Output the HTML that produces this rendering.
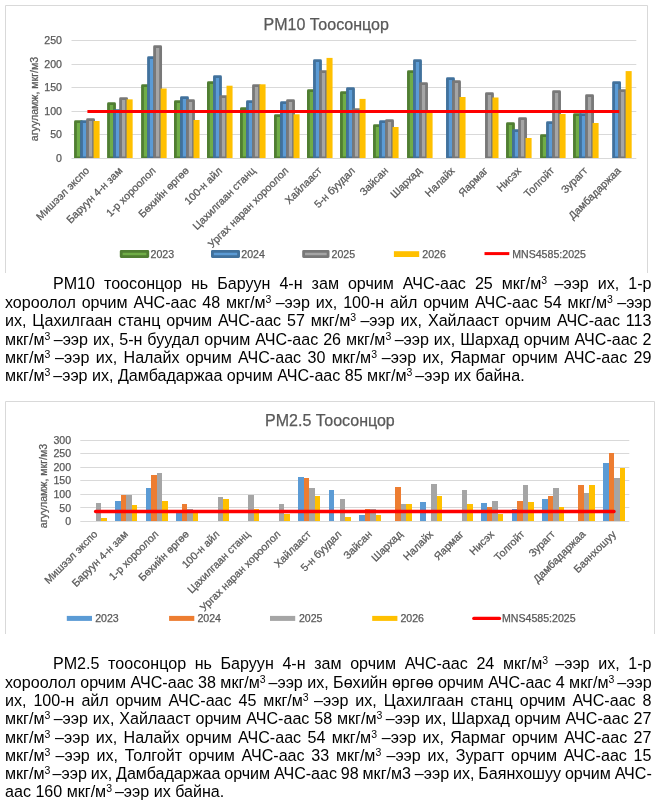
<!DOCTYPE html>
<html lang="mn">
<head>
<meta charset="utf-8">
<title>PM10 / PM2.5 Тоосонцор</title>
<style>
html,body{margin:0;padding:0;background:#fff;}
body{width:660px;height:802px;position:relative;overflow:hidden;font-family:'Liberation Sans', Arial, sans-serif;color:#000;}
svg.ch{position:absolute;display:block;}
svg text{font-family:'Liberation Sans', Arial, sans-serif;stroke:#595959;stroke-width:0.25px;}
.para{position:absolute;left:5px;top:0;width:646.5px;font-size:16.08px;line-height:18px;}
.ln{position:absolute;left:0;right:0;margin:0;height:18px;white-space:nowrap;text-align:justify;text-align-last:justify;}
.ln.first{padding-left:48px;}
.ln.last{text-align:left;text-align-last:left;}
sup{font-size:10.5px;line-height:0;vertical-align:baseline;position:relative;top:-5.5px;}
</style>
</head>
<body>
<svg class="ch" style="left:0;top:0" width="660" height="276" viewBox="0 0 660 276">
<path d="M5.5 273V5.5H647.5V273" fill="none" stroke="#D9D9D9" stroke-width="1"/>
<text x="326.2" y="29.8" text-anchor="middle" font-size="16" fill="#595959">PM10 Тоосонцор</text>
<path d="M71.5 40.5H636.3" stroke="#D9D9D9" stroke-width="1"/>
<text x="62" y="44.3" text-anchor="end" font-size="10.6" fill="#595959">250</text>
<path d="M71.5 64.5H636.3" stroke="#D9D9D9" stroke-width="1"/>
<text x="62" y="68.3" text-anchor="end" font-size="10.6" fill="#595959">200</text>
<path d="M71.5 87.5H636.3" stroke="#D9D9D9" stroke-width="1"/>
<text x="62" y="91.3" text-anchor="end" font-size="10.6" fill="#595959">150</text>
<path d="M71.5 111.5H636.3" stroke="#D9D9D9" stroke-width="1"/>
<text x="62" y="115.3" text-anchor="end" font-size="10.6" fill="#595959">100</text>
<path d="M71.5 134.5H636.3" stroke="#D9D9D9" stroke-width="1"/>
<text x="62" y="138.3" text-anchor="end" font-size="10.6" fill="#595959">50</text>
<path d="M71.5 158.5H636.3" stroke="#D9D9D9" stroke-width="1"/>
<text x="62" y="162.3" text-anchor="end" font-size="10.6" fill="#595959">0</text>
<text transform="translate(37.6 99) rotate(-90)" text-anchor="middle" font-size="10.6" fill="#595959">агууламж, мкг/м3</text>
<clipPath id="c1"><rect x="0" y="0" width="660" height="158.0"/></clipPath>
<g clip-path="url(#c1)" stroke-linejoin="round">
<rect x="75.46" y="121.7" width="6.04" height="36.3" fill="#70AD47" stroke="#507E32" stroke-width="2.8"/>
<rect x="81.5" y="121.7" width="6.04" height="36.3" fill="#5B9BD5" stroke="#41719C" stroke-width="2.8"/>
<rect x="87.54" y="119.7" width="6.04" height="38.3" fill="#A5A5A5" stroke="#787878" stroke-width="2.8"/>
<rect x="93.56" y="121" width="6.05" height="37" fill="#FFC000"/>
<rect x="108.5" y="103.7" width="6.04" height="54.3" fill="#70AD47" stroke="#507E32" stroke-width="2.8"/>
<rect x="114.54" y="110.7" width="6.04" height="47.3" fill="#5B9BD5" stroke="#41719C" stroke-width="2.8"/>
<rect x="120.58" y="98.7" width="6.04" height="59.3" fill="#A5A5A5" stroke="#787878" stroke-width="2.8"/>
<rect x="126.6" y="99.35" width="6.05" height="58.65" fill="#FFC000"/>
<rect x="142.5" y="85.7" width="6.04" height="72.3" fill="#70AD47" stroke="#507E32" stroke-width="2.8"/>
<rect x="148.54" y="57.7" width="6.04" height="100.3" fill="#5B9BD5" stroke="#41719C" stroke-width="2.8"/>
<rect x="154.58" y="46.7" width="6.04" height="111.3" fill="#A5A5A5" stroke="#787878" stroke-width="2.8"/>
<rect x="160.6" y="88.5" width="6.05" height="69.5" fill="#FFC000"/>
<rect x="175.41" y="101.7" width="6.04" height="56.3" fill="#70AD47" stroke="#507E32" stroke-width="2.8"/>
<rect x="181.45" y="97.7" width="6.04" height="60.3" fill="#5B9BD5" stroke="#41719C" stroke-width="2.8"/>
<rect x="187.49" y="100.7" width="6.04" height="57.3" fill="#A5A5A5" stroke="#787878" stroke-width="2.8"/>
<rect x="193.51" y="120" width="6.05" height="38" fill="#FFC000"/>
<rect x="208.41" y="82.7" width="6.04" height="75.3" fill="#70AD47" stroke="#507E32" stroke-width="2.8"/>
<rect x="214.45" y="76.7" width="6.04" height="81.3" fill="#5B9BD5" stroke="#41719C" stroke-width="2.8"/>
<rect x="220.5" y="96.7" width="6.04" height="61.3" fill="#A5A5A5" stroke="#787878" stroke-width="2.8"/>
<rect x="226.51" y="85.7" width="6.05" height="72.3" fill="#FFC000"/>
<rect x="241.42" y="108.7" width="6.04" height="49.3" fill="#70AD47" stroke="#507E32" stroke-width="2.8"/>
<rect x="247.46" y="101.7" width="6.04" height="56.3" fill="#5B9BD5" stroke="#41719C" stroke-width="2.8"/>
<rect x="253.5" y="85.7" width="6.04" height="72.3" fill="#A5A5A5" stroke="#787878" stroke-width="2.8"/>
<rect x="259.52" y="84.3" width="6.05" height="73.7" fill="#FFC000"/>
<rect x="275.42" y="115.7" width="6.04" height="42.3" fill="#70AD47" stroke="#507E32" stroke-width="2.8"/>
<rect x="281.46" y="102.7" width="6.04" height="55.3" fill="#5B9BD5" stroke="#41719C" stroke-width="2.8"/>
<rect x="287.5" y="100.7" width="6.04" height="57.3" fill="#A5A5A5" stroke="#787878" stroke-width="2.8"/>
<rect x="293.52" y="114.3" width="6.05" height="43.7" fill="#FFC000"/>
<rect x="308.41" y="90.7" width="6.04" height="67.3" fill="#70AD47" stroke="#507E32" stroke-width="2.8"/>
<rect x="314.46" y="60.7" width="6.04" height="97.3" fill="#5B9BD5" stroke="#41719C" stroke-width="2.8"/>
<rect x="320.5" y="71.7" width="6.04" height="86.3" fill="#A5A5A5" stroke="#787878" stroke-width="2.8"/>
<rect x="326.51" y="57.9" width="6.05" height="100.1" fill="#FFC000"/>
<rect x="341.43" y="92.7" width="6.04" height="65.3" fill="#70AD47" stroke="#507E32" stroke-width="2.8"/>
<rect x="347.47" y="88.7" width="6.04" height="69.3" fill="#5B9BD5" stroke="#41719C" stroke-width="2.8"/>
<rect x="353.51" y="109.7" width="6.04" height="48.3" fill="#A5A5A5" stroke="#787878" stroke-width="2.8"/>
<rect x="359.53" y="98.9" width="6.05" height="59.1" fill="#FFC000"/>
<rect x="374.43" y="125.7" width="6.04" height="32.3" fill="#70AD47" stroke="#507E32" stroke-width="2.8"/>
<rect x="380.47" y="121.7" width="6.04" height="36.3" fill="#5B9BD5" stroke="#41719C" stroke-width="2.8"/>
<rect x="386.51" y="120.7" width="6.04" height="37.3" fill="#A5A5A5" stroke="#787878" stroke-width="2.8"/>
<rect x="392.53" y="127" width="6.05" height="31" fill="#FFC000"/>
<rect x="408.44" y="71.7" width="6.04" height="86.3" fill="#70AD47" stroke="#507E32" stroke-width="2.8"/>
<rect x="414.48" y="60.7" width="6.04" height="97.3" fill="#5B9BD5" stroke="#41719C" stroke-width="2.8"/>
<rect x="420.52" y="83.7" width="6.04" height="74.3" fill="#A5A5A5" stroke="#787878" stroke-width="2.8"/>
<rect x="426.54" y="110.2" width="6.05" height="47.8" fill="#FFC000"/>
<rect x="447.44" y="78.7" width="6.04" height="79.3" fill="#5B9BD5" stroke="#41719C" stroke-width="2.8"/>
<rect x="453.48" y="81.7" width="6.04" height="76.3" fill="#A5A5A5" stroke="#787878" stroke-width="2.8"/>
<rect x="459.5" y="97" width="6.05" height="61" fill="#FFC000"/>
<rect x="486.44" y="93.7" width="6.04" height="64.3" fill="#A5A5A5" stroke="#787878" stroke-width="2.8"/>
<rect x="492.46" y="97.5" width="6.05" height="60.5" fill="#FFC000"/>
<rect x="507.45" y="123.7" width="6.04" height="34.3" fill="#70AD47" stroke="#507E32" stroke-width="2.8"/>
<rect x="513.49" y="130.7" width="6.04" height="27.3" fill="#5B9BD5" stroke="#41719C" stroke-width="2.8"/>
<rect x="519.53" y="118.7" width="6.04" height="39.3" fill="#A5A5A5" stroke="#787878" stroke-width="2.8"/>
<rect x="525.55" y="138" width="6.05" height="20" fill="#FFC000"/>
<rect x="541.45" y="135.7" width="6.04" height="22.3" fill="#70AD47" stroke="#507E32" stroke-width="2.8"/>
<rect x="547.49" y="122.7" width="6.04" height="35.3" fill="#5B9BD5" stroke="#41719C" stroke-width="2.8"/>
<rect x="553.53" y="91.7" width="6.04" height="66.3" fill="#A5A5A5" stroke="#787878" stroke-width="2.8"/>
<rect x="559.55" y="114" width="6.05" height="44" fill="#FFC000"/>
<rect x="574.45" y="114.7" width="6.04" height="43.3" fill="#70AD47" stroke="#507E32" stroke-width="2.8"/>
<rect x="580.49" y="114.7" width="6.04" height="43.3" fill="#5B9BD5" stroke="#41719C" stroke-width="2.8"/>
<rect x="586.53" y="95.7" width="6.04" height="62.3" fill="#A5A5A5" stroke="#787878" stroke-width="2.8"/>
<rect x="592.55" y="123" width="6.05" height="35" fill="#FFC000"/>
<rect x="613.57" y="82.7" width="6.04" height="75.3" fill="#5B9BD5" stroke="#41719C" stroke-width="2.8"/>
<rect x="619.61" y="90.7" width="6.04" height="67.3" fill="#A5A5A5" stroke="#787878" stroke-width="2.8"/>
<rect x="625.63" y="71.1" width="6.05" height="86.9" fill="#FFC000"/>
</g>
<path d="M87.41 111.4H619.29" stroke="#FF0000" stroke-width="3"/>
<text transform="translate(89.91 171.4) rotate(-45)" text-anchor="end" font-size="10.6" fill="#595959">Мишээл экспо</text>
<text transform="translate(123.14 171.4) rotate(-45)" text-anchor="end" font-size="10.6" fill="#595959">Баруун 4-н зам</text>
<text transform="translate(156.36 171.4) rotate(-45)" text-anchor="end" font-size="10.6" fill="#595959">1-р хороолол</text>
<text transform="translate(189.58 171.4) rotate(-45)" text-anchor="end" font-size="10.6" fill="#595959">Бөхийн өргөө</text>
<text transform="translate(222.81 171.4) rotate(-45)" text-anchor="end" font-size="10.6" fill="#595959">100-н айл</text>
<text transform="translate(256.03 171.4) rotate(-45)" text-anchor="end" font-size="10.6" fill="#595959">Цахилгаан станц</text>
<text transform="translate(289.25 171.4) rotate(-45)" text-anchor="end" font-size="10.6" fill="#595959">Ургах наран хороолол</text>
<text transform="translate(322.48 171.4) rotate(-45)" text-anchor="end" font-size="10.6" fill="#595959">Хайлааст</text>
<text transform="translate(355.7 171.4) rotate(-45)" text-anchor="end" font-size="10.6" fill="#595959">5-н буудал</text>
<text transform="translate(388.92 171.4) rotate(-45)" text-anchor="end" font-size="10.6" fill="#595959">Зайсан</text>
<text transform="translate(422.15 171.4) rotate(-45)" text-anchor="end" font-size="10.6" fill="#595959">Шархад</text>
<text transform="translate(455.37 171.4) rotate(-45)" text-anchor="end" font-size="10.6" fill="#595959">Налайх</text>
<text transform="translate(488.59 171.4) rotate(-45)" text-anchor="end" font-size="10.6" fill="#595959">Яармаг</text>
<text transform="translate(521.82 171.4) rotate(-45)" text-anchor="end" font-size="10.6" fill="#595959">Нисэх</text>
<text transform="translate(555.04 171.4) rotate(-45)" text-anchor="end" font-size="10.6" fill="#595959">Толгойт</text>
<text transform="translate(588.26 171.4) rotate(-45)" text-anchor="end" font-size="10.6" fill="#595959">Зурагт</text>
<text transform="translate(621.49 171.4) rotate(-45)" text-anchor="end" font-size="10.6" fill="#595959">Дамбадаржаа</text>
<rect x="121.2" y="251.35" width="26.6" height="5.2" fill="#70AD47" stroke="#507E32" stroke-width="2.8" stroke-linejoin="round"/>
<text x="150.5" y="257.7" font-size="10.6" fill="#595959">2023</text>
<rect x="212.4" y="251.35" width="26.2" height="5.2" fill="#5B9BD5" stroke="#41719C" stroke-width="2.8" stroke-linejoin="round"/>
<text x="241.3" y="257.7" font-size="10.6" fill="#595959">2024</text>
<rect x="303.6" y="251.35" width="24.5" height="5.2" fill="#A5A5A5" stroke="#787878" stroke-width="2.8" stroke-linejoin="round"/>
<text x="331.5" y="257.7" font-size="10.6" fill="#595959">2025</text>
<rect x="393.9" y="251.2" width="25.3" height="5.8" fill="#FFC000"/>
<text x="422.3" y="257.7" font-size="10.6" fill="#595959">2026</text>
<path d="M484.5 253.6H509.3" stroke="#FF0000" stroke-width="3"/>
<text x="512.2" y="257.7" font-size="10.6" fill="#595959">MNS4585:2025</text>
</svg>
<div class="para a">
<p class="ln first" style="top:274px">PM10 тоосонцор нь Баруун 4-н зам орчим АЧС-аас 25 мкг/м<sup>3 </sup>–ээр их, 1-р</p>
<p class="ln" style="top:293px">хороолол орчим АЧС-аас 48 мкг/м<sup>3 </sup>–ээр их, 100-н айл орчим АЧС-аас 54 мкг/м<sup>3 </sup>–ээр</p>
<p class="ln" style="top:311px">их, Цахилгаан станц орчим АЧС-аас 57 мкг/м<sup>3 </sup>–ээр их, Хайлааст орчим АЧС-аас 113</p>
<p class="ln" style="top:330px">мкг/м<sup>3 </sup>–ээр их, 5-н буудал орчим АЧС-аас 26 мкг/м<sup>3 </sup>–ээр их, Шархад орчим АЧС-аас 2</p>
<p class="ln" style="top:348px">мкг/м<sup>3 </sup>–ээр их, Налайх орчим АЧС-аас 30 мкг/м<sup>3 </sup>–ээр их, Яармаг орчим АЧС-аас 29</p>
<p class="ln last" style="top:366px">мкг/м<sup>3 </sup>–ээр их, Дамбадаржаа орчим АЧС-аас 85 мкг/м<sup>3 </sup>–ээр их байна.</p>
</div>
<svg class="ch" style="left:0;top:398px" width="660" height="240" viewBox="0 398 660 240">
<path d="M5.5 634V401.5H654.5V634" fill="none" stroke="#D9D9D9" stroke-width="1"/>
<text x="329.9" y="425.6" text-anchor="middle" font-size="16" fill="#595959">PM2.5 Тоосонцор</text>
<path d="M80.3 440.5H629.3" stroke="#D9D9D9" stroke-width="1"/>
<text x="71.1" y="444.4" text-anchor="end" font-size="10.6" fill="#595959">300</text>
<path d="M80.3 453.5H629.3" stroke="#D9D9D9" stroke-width="1"/>
<text x="71.1" y="457.4" text-anchor="end" font-size="10.6" fill="#595959">250</text>
<path d="M80.3 467.5H629.3" stroke="#D9D9D9" stroke-width="1"/>
<text x="71.1" y="471.4" text-anchor="end" font-size="10.6" fill="#595959">200</text>
<path d="M80.3 480.5H629.3" stroke="#D9D9D9" stroke-width="1"/>
<text x="71.1" y="484.4" text-anchor="end" font-size="10.6" fill="#595959">150</text>
<path d="M80.3 494.5H629.3" stroke="#D9D9D9" stroke-width="1"/>
<text x="71.1" y="498.4" text-anchor="end" font-size="10.6" fill="#595959">100</text>
<path d="M80.3 507.5H629.3" stroke="#D9D9D9" stroke-width="1"/>
<text x="71.1" y="512.4" text-anchor="end" font-size="10.6" fill="#595959">50</text>
<path d="M80.3 521.5H629.3" stroke="#D9D9D9" stroke-width="1"/>
<text x="71.1" y="525.4" text-anchor="end" font-size="10.6" fill="#595959">0</text>
<text transform="translate(47.2 486) rotate(-90)" text-anchor="middle" font-size="10.6" fill="#595959">агууламж, мкг/м3</text>
<rect x="96" y="503" width="5" height="18" fill="#A5A5A5"/>
<rect x="101" y="518" width="6" height="3" fill="#FFC000"/>
<rect x="115" y="501" width="6" height="20" fill="#5B9BD5"/>
<rect x="121" y="495" width="5" height="26" fill="#ED7D31"/>
<rect x="126" y="495" width="6" height="26" fill="#A5A5A5"/>
<rect x="132" y="505" width="5" height="16" fill="#FFC000"/>
<rect x="146" y="488" width="5" height="33" fill="#5B9BD5"/>
<rect x="151" y="475" width="6" height="46" fill="#ED7D31"/>
<rect x="157" y="473" width="5" height="48" fill="#A5A5A5"/>
<rect x="162" y="501" width="6" height="20" fill="#FFC000"/>
<rect x="176" y="512" width="6" height="9" fill="#5B9BD5"/>
<rect x="182" y="504" width="5" height="17" fill="#ED7D31"/>
<rect x="187" y="509" width="6" height="12" fill="#A5A5A5"/>
<rect x="193" y="511" width="5" height="10" fill="#FFC000"/>
<rect x="218" y="497" width="5" height="24" fill="#A5A5A5"/>
<rect x="223" y="499" width="6" height="22" fill="#FFC000"/>
<rect x="248" y="495" width="6" height="26" fill="#A5A5A5"/>
<rect x="254" y="509" width="5" height="12" fill="#FFC000"/>
<rect x="279" y="504" width="5" height="17" fill="#A5A5A5"/>
<rect x="284" y="514" width="6" height="7" fill="#FFC000"/>
<rect x="298" y="477" width="6" height="44" fill="#5B9BD5"/>
<rect x="304" y="478" width="5" height="43" fill="#ED7D31"/>
<rect x="309" y="488" width="6" height="33" fill="#A5A5A5"/>
<rect x="315" y="496" width="5" height="25" fill="#FFC000"/>
<rect x="329" y="490" width="5" height="31" fill="#5B9BD5"/>
<rect x="340" y="499" width="5" height="22" fill="#A5A5A5"/>
<rect x="345" y="517" width="6" height="4" fill="#FFC000"/>
<rect x="359" y="515" width="6" height="6" fill="#5B9BD5"/>
<rect x="365" y="509" width="5" height="12" fill="#ED7D31"/>
<rect x="370" y="509" width="6" height="12" fill="#A5A5A5"/>
<rect x="376" y="515" width="5" height="6" fill="#FFC000"/>
<rect x="395" y="487" width="6" height="34" fill="#ED7D31"/>
<rect x="401" y="504" width="5" height="17" fill="#A5A5A5"/>
<rect x="406" y="504" width="6" height="17" fill="#FFC000"/>
<rect x="420" y="502" width="6" height="19" fill="#5B9BD5"/>
<rect x="431" y="484" width="6" height="37" fill="#A5A5A5"/>
<rect x="437" y="496" width="5" height="25" fill="#FFC000"/>
<rect x="462" y="490" width="5" height="31" fill="#A5A5A5"/>
<rect x="467" y="504" width="6" height="17" fill="#FFC000"/>
<rect x="481" y="503" width="6" height="18" fill="#5B9BD5"/>
<rect x="487" y="507" width="5" height="14" fill="#ED7D31"/>
<rect x="492" y="501" width="6" height="20" fill="#A5A5A5"/>
<rect x="498" y="514" width="5" height="7" fill="#FFC000"/>
<rect x="512" y="509" width="5" height="12" fill="#5B9BD5"/>
<rect x="517" y="501" width="6" height="20" fill="#ED7D31"/>
<rect x="523" y="485" width="5" height="36" fill="#A5A5A5"/>
<rect x="528" y="502" width="6" height="19" fill="#FFC000"/>
<rect x="542" y="499" width="6" height="22" fill="#5B9BD5"/>
<rect x="548" y="496" width="5" height="25" fill="#ED7D31"/>
<rect x="553" y="488" width="6" height="33" fill="#A5A5A5"/>
<rect x="559" y="507" width="5" height="14" fill="#FFC000"/>
<rect x="578" y="485" width="6" height="36" fill="#ED7D31"/>
<rect x="584" y="493" width="5" height="28" fill="#A5A5A5"/>
<rect x="589" y="485" width="6" height="36" fill="#FFC000"/>
<rect x="603" y="463" width="6" height="58" fill="#5B9BD5"/>
<rect x="609" y="453" width="5" height="68" fill="#ED7D31"/>
<rect x="614" y="478" width="6" height="43" fill="#A5A5A5"/>
<rect x="620" y="468" width="5" height="53" fill="#FFC000"/>
<path d="M95.55 511.5H614.05" stroke="#FF0000" stroke-width="3.3" stroke-linecap="round"/>
<text transform="translate(98.15 534.9) rotate(-45)" text-anchor="end" font-size="10.6" fill="#595959">Мишээл экспо</text>
<text transform="translate(128.65 534.9) rotate(-45)" text-anchor="end" font-size="10.6" fill="#595959">Баруун 4-н зам</text>
<text transform="translate(159.15 534.9) rotate(-45)" text-anchor="end" font-size="10.6" fill="#595959">1-р хороолол</text>
<text transform="translate(189.65 534.9) rotate(-45)" text-anchor="end" font-size="10.6" fill="#595959">Бөхийн өргөө</text>
<text transform="translate(220.15 534.9) rotate(-45)" text-anchor="end" font-size="10.6" fill="#595959">100-н айл</text>
<text transform="translate(250.65 534.9) rotate(-45)" text-anchor="end" font-size="10.6" fill="#595959">Цахилгаан станц</text>
<text transform="translate(281.15 534.9) rotate(-45)" text-anchor="end" font-size="10.6" fill="#595959">Ургах наран хороолол</text>
<text transform="translate(311.65 534.9) rotate(-45)" text-anchor="end" font-size="10.6" fill="#595959">Хайлааст</text>
<text transform="translate(342.15 534.9) rotate(-45)" text-anchor="end" font-size="10.6" fill="#595959">5-н буудал</text>
<text transform="translate(372.65 534.9) rotate(-45)" text-anchor="end" font-size="10.6" fill="#595959">Зайсан</text>
<text transform="translate(403.15 534.9) rotate(-45)" text-anchor="end" font-size="10.6" fill="#595959">Шархад</text>
<text transform="translate(433.65 534.9) rotate(-45)" text-anchor="end" font-size="10.6" fill="#595959">Налайх</text>
<text transform="translate(464.15 534.9) rotate(-45)" text-anchor="end" font-size="10.6" fill="#595959">Яармаг</text>
<text transform="translate(494.65 534.9) rotate(-45)" text-anchor="end" font-size="10.6" fill="#595959">Нисэх</text>
<text transform="translate(525.15 534.9) rotate(-45)" text-anchor="end" font-size="10.6" fill="#595959">Толгойт</text>
<text transform="translate(555.65 534.9) rotate(-45)" text-anchor="end" font-size="10.6" fill="#595959">Зурагт</text>
<text transform="translate(586.15 534.9) rotate(-45)" text-anchor="end" font-size="10.6" fill="#595959">Дамбадаржаа</text>
<text transform="translate(616.65 534.9) rotate(-45)" text-anchor="end" font-size="10.6" fill="#595959">Баянхошуу</text>
<rect x="66.8" y="615.9" width="25.2" height="5" fill="#5B9BD5"/>
<text x="95.2" y="622.2" font-size="10.6" fill="#595959">2023</text>
<rect x="169.1" y="615.9" width="25.2" height="5" fill="#ED7D31"/>
<text x="197.4" y="622.2" font-size="10.6" fill="#595959">2024</text>
<rect x="270" y="615.9" width="25.2" height="5" fill="#A5A5A5"/>
<text x="298.9" y="622.2" font-size="10.6" fill="#595959">2025</text>
<rect x="372.2" y="615.9" width="25.2" height="5" fill="#FFC000"/>
<text x="400.4" y="622.2" font-size="10.6" fill="#595959">2026</text>
<path d="M473.8 618.4H499.5" stroke="#FF0000" stroke-width="3.3" stroke-linecap="round"/>
<text x="502" y="622.2" font-size="10.6" fill="#595959">MNS4585:2025</text>
</svg>
<div class="para b">
<p class="ln first" style="top:654px">PM2.5 тоосонцор нь Баруун 4-н зам орчим АЧС-аас 24 мкг/м<sup>3 </sup>–ээр их, 1-р</p>
<p class="ln" style="top:673px;word-spacing:-0.06px">хороолол орчим АЧС-аас 38 мкг/м<sup>3 </sup>–ээр их, Бөхийн өргөө орчим АЧС-аас 4 мкг/м<sup>3 </sup>–ээр</p>
<p class="ln" style="top:691px">их, 100-н айл орчим АЧС-аас 45 мкг/м<sup>3 </sup>–ээр их, Цахилгаан станц орчим АЧС-аас 8</p>
<p class="ln" style="top:709px">мкг/м<sup>3 </sup>–ээр их, Хайлааст орчим АЧС-аас 58 мкг/м<sup>3 </sup>–ээр их, Шархад орчим АЧС-аас 27</p>
<p class="ln" style="top:728px">мкг/м<sup>3 </sup>–ээр их, Налайх орчим АЧС-аас 54 мкг/м<sup>3 </sup>–ээр их, Яармаг орчим АЧС-аас 27</p>
<p class="ln" style="top:746px">мкг/м<sup>3 </sup>–ээр их, Толгойт орчим АЧС-аас 33 мкг/м<sup>3 </sup>–ээр их, Зурагт орчим АЧС-аас 15</p>
<p class="ln" style="top:764px;word-spacing:-0.65px">мкг/м<sup>3 </sup>–ээр их, Дамбадаржаа орчим АЧС-аас 98 мкг/м3 –ээр их, Баянхошуу орчим АЧС-</p>
<p class="ln last" style="top:782px">аас 160 мкг/м<sup>3 </sup>–ээр их байна.</p>
</div>
</body>
</html>
